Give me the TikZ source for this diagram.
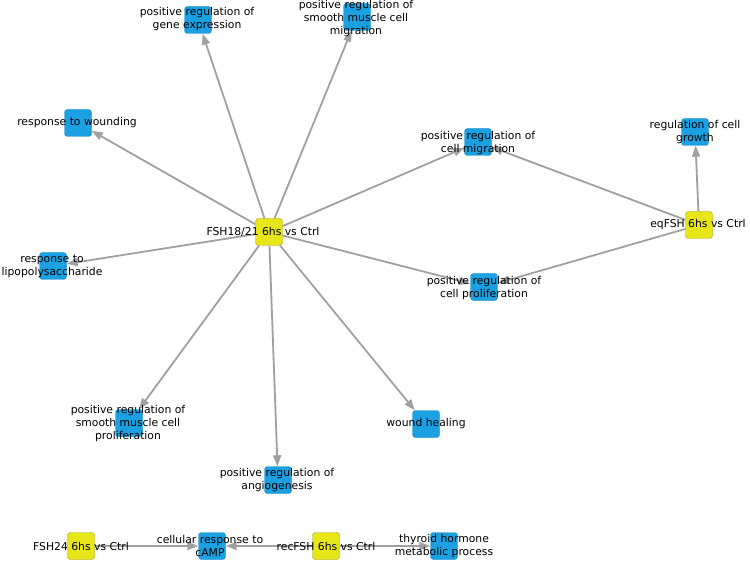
\documentclass[tikz,border=0pt]{standalone}
\usepackage{fontspec}
\setmainfont{DejaVu Sans}
\usetikzlibrary{arrows.meta}
\definecolor{termblue}{RGB}{27,161,226}
\definecolor{condyellow}{RGB}{230,230,25}
\definecolor{edgegray}{RGB}{160,160,160}
\begin{document}
\begin{tikzpicture}[x=1pt,y=-1pt,
    term/.style={rounded corners=3pt, minimum size=27pt, inner sep=0pt, fill=termblue, draw=termblue!85!black, line width=0.4pt},
    cond/.style={term, fill=condyellow, draw=condyellow!70!black},
    lbl/.style={align=center, inner sep=0pt, font=\fontsize{10.8}{13}\selectfont},
    edge/.style={draw=edgegray, line width=1.8pt, -{Triangle[length=11pt,width=8pt]}}]
    \useasboundingbox (0,0) rectangle (750,572);
    % conditions
    \node[cond] (fsh) at (269,232) {};
    \node[cond] (eq) at (699,225) {};
    \node[cond] (f24) at (81,546) {};
    \node[cond] (rec) at (326,546) {};
    % GO terms
    \node[term] (gex) at (198,20) {};
    \node[term] (smm) at (357,17) {};
    \node[term] (wnd) at (78,123) {};
    \node[term] (lps) at (53,266) {};
    \node[term] (cmig) at (478,142) {};
    \node[term] (grow) at (695,132) {};
    \node[term] (cpro) at (484,287) {};
    \node[term] (smp) at (129,423) {};
    \node[term] (heal) at (426,424) {};
    \node[term] (ang) at (278,480) {};
    \node[term] (camp) at (212,546) {};
    \node[term] (thy) at (444,546) {};
    % edges
    \foreach \t in {gex,smm,wnd,lps,cmig,cpro,smp,ang,heal}
        \draw[edge] (fsh) -- (\t);
    \foreach \t in {grow,cmig,cpro}
        \draw[edge] (eq) -- (\t);
    \draw[edge] (f24) -- (camp);
    \draw[edge] (rec) -- (camp);
    \draw[edge] (rec) -- (thy);
    % labels on top
    \node[lbl] (fsh-t) at (263,232) {FSH18/21 6hs vs Ctrl};
    \node[lbl] (eq-t) at (698,225) {eqFSH 6hs vs Ctrl};
    \node[lbl] (f24-t) at (81,546) {FSH24 6hs vs Ctrl};
    \node[lbl] (rec-t) at (326,546) {recFSH 6hs vs Ctrl};
    \node[lbl] (gex-t) at (197,19.5) {positive regulation of\\gene expression};
    \node[lbl] (smm-t) at (356,19) {positive regulation of\\smooth muscle cell\\migration};
    \node[lbl] (wnd-t) at (77,123) {response to wounding};
    \node[lbl] (lps-t) at (52,266.5) {response to\\lipopolysaccharide};
    \node[lbl] (cmig-t) at (478,143) {positive regulation of\\cell migration};
    \node[lbl] (grow-t) at (695,132) {regulation of cell\\growth};
    \node[lbl] (cpro-t) at (484,288) {positive regulation of\\cell proliferation};
    \node[lbl] (smp-t) at (128,424) {positive regulation of\\smooth muscle cell\\proliferation};
    \node[lbl] (heal-t) at (426,424) {wound healing};
    \node[lbl] (ang-t) at (277,480.5) {positive regulation of\\angiogenesis};
    \node[lbl] (camp-t) at (210,546) {cellular response to\\cAMP};
    \node[lbl] (thy-t) at (444,546) {thyroid hormone\\metabolic process};
\end{tikzpicture}
\end{document}
